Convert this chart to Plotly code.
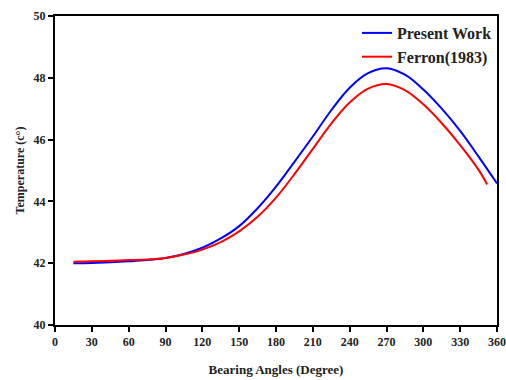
import plotly.graph_objects as go

# Bearing angle (degrees) and temperature (°C) for the two models
angles_present = [15, 30, 45, 60, 75, 90, 105, 120, 135, 150, 165, 180, 195, 210,
                  225, 240, 255, 270, 285, 300, 315, 330, 345, 360]
temp_present = [42.00, 42.01, 42.03, 42.06, 42.10, 42.17, 42.30, 42.50, 42.80, 43.20,
                43.78, 44.48, 45.28, 46.10, 46.95, 47.68, 48.15, 48.31, 48.10, 47.62,
                47.00, 46.28, 45.45, 44.58]

angles_ferron = [15, 30, 45, 60, 75, 90, 105, 120, 135, 150, 165, 180, 195, 210,
                 225, 240, 255, 270, 285, 300, 315, 330, 345, 352]
temp_ferron = [42.05, 42.06, 42.08, 42.10, 42.12, 42.17, 42.28, 42.44, 42.68, 43.03,
               43.50, 44.12, 44.88, 45.70, 46.52, 47.20, 47.65, 47.80, 47.60, 47.14,
               46.53, 45.82, 45.02, 44.55]

x_ticks = list(range(0, 361, 30))
y_ticks = [40, 42, 44, 46, 48, 50]

serif = "Liberation Serif, Times New Roman, serif"
ink = "#222"

fig = go.Figure()
fig.add_trace(go.Scatter(x=angles_present, y=temp_present, mode="lines",
                         name="Present Work",
                         line=dict(color="#0000ff", width=2, shape="spline", smoothing=1)))
fig.add_trace(go.Scatter(x=angles_ferron, y=temp_ferron, mode="lines",
                         name="Ferron(1983)",
                         line=dict(color="#ff0000", width=2, shape="spline", smoothing=1)))

axis_common = dict(
    showgrid=False, zeroline=False, showline=True, linecolor="black", linewidth=2,
    mirror=True, ticks="outside", ticklen=5, tickwidth=2, tickcolor="black",
    automargin=False,
    tickfont=dict(family=serif, size=12, color=ink, weight="bold"),
)

fig.update_layout(
    width=506, height=380,
    margin=dict(l=55, r=9, t=16, b=55),
    paper_bgcolor="white", plot_bgcolor="white",
    xaxis=dict(range=[0, 360], tickvals=x_ticks,
               title=dict(text="Bearing Angles (Degree)",
                          font=dict(family=serif, size=13, color=ink, weight="bold"),
                          standoff=16),
               **axis_common),
    yaxis=dict(range=[40, 50], tickvals=y_ticks,
               title=dict(text="Temperature (c°)",
                          font=dict(family=serif, size=12, color=ink, weight="bold"),
                          standoff=6),
               **axis_common),
    legend=dict(x=1.0, y=1, xanchor="right", yanchor="top", bgcolor="rgba(0,0,0,0)",
                font=dict(family=serif, size=16, color=ink, weight="bold"),
                itemwidth=30, tracegroupgap=0),
    showlegend=True,
)

fig.write_html("out.html")
